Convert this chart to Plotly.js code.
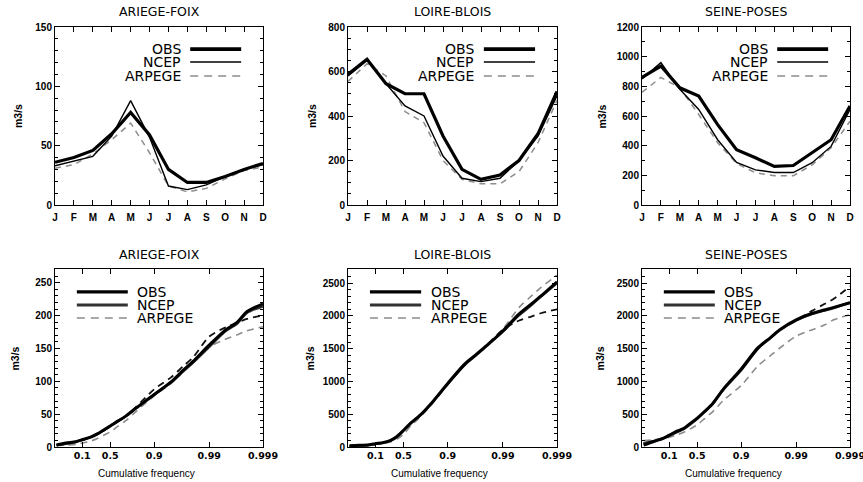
<!DOCTYPE html>
<html><head><meta charset="utf-8">
<script src="https://cdn.plot.ly/plotly-3.0.1.min.js"></script>
<style>html,body{margin:0;padding:0;background:#fff}#chart{width:863px;height:482px}</style>
</head><body><div id="chart"></div>
<script>
// ---------- data ----------
const monthLabels = ['J','F','M','A','M','J','J','A','S','O','N','D'];
const monthIndex = [1,2,3,4,5,6,7,8,9,10,11,12];

const ariegeObs    = [36,40,46,60,78,59,30,19,19,24,30,35];
const ariegeNcep   = [33,37,41,58,88,57,16,13,17,24,30,34];
const ariegeArpege = [31,34,43,55,69,44,16,11,14,22,29,32];

const loireObs    = [587,655,545,500,500,310,160,115,135,200,320,510];
const loireNcep   = [580,650,545,445,400,220,120,105,120,200,310,490];
const loireArpege = [555,635,580,420,370,200,115,95,95,150,280,470];

const seineObs    = [860,937,790,734,542,373,318,260,266,352,440,667];
const seineNcep   = [850,960,780,644,440,287,237,219,219,285,395,644];
const seineArpege = [760,860,790,610,420,280,217,197,197,271,386,565];

const freq = [0.001,0.01,0.05,0.1,0.2,0.3,0.4,0.5,0.6,0.7,0.8,0.9,0.95,0.97,0.98,0.99,0.995,0.997,0.998,0.999];
const freqTicks = [0.1,0.5,0.9,0.99,0.999];
const freqTickText = ['0.1','0.5','0.9','0.99','0.999'];

const ariegeQObs    = [3,6,8,11,15,20,26,32,39,47,60,80,99,117,130,155,178,190,206,218];
const ariegeQNcep   = [3,5,8,11,15,20,25,32,39,47,60,80,98,115,128,152,176,188,204,214];
const ariegeQArpege = [2,3,4,6,9,13,18,23,31,40,55,78,97,115,128,152,164,171,177,183];
const ariegeQOther  = [3,5,8,11,15,20,25,32,39,47,62,88,106,123,136,168,182,189,195,200];

const loireQObs    = [20,25,35,50,70,100,160,255,365,470,645,970,1265,1420,1545,1770,2030,2180,2300,2520];
const loireQNcep   = [15,20,30,45,65,95,155,250,360,470,640,960,1250,1410,1540,1760,2010,2160,2290,2500];
const loireQArpege = [10,15,25,40,55,75,120,195,320,440,620,950,1250,1420,1560,1800,2130,2300,2430,2620];
const loireQOther  = [15,20,30,45,65,95,155,250,360,470,640,960,1250,1410,1540,1790,1930,1990,2040,2100];

const seineQObs    = [30,80,130,180,245,290,365,440,540,665,890,1190,1515,1665,1790,1940,2040,2090,2130,2200];
const seineQNcep   = [60,90,130,170,230,280,350,430,530,660,880,1170,1500,1660,1780,1930,2030,2080,2120,2200];
const seineQArpege = [100,110,130,150,190,230,280,340,430,540,715,940,1240,1390,1510,1690,1790,1860,1940,2020];
const seineQOther  = [50,85,130,175,240,285,360,435,535,660,880,1180,1510,1660,1780,1930,2080,2180,2260,2450];

const titles = ['ARIEGE-FOIX','LOIRE-BLOIS','SEINE-POSES'];
const legendNames = ['OBS','NCEP','ARPEGE'];

// ---------- helpers ----------
function gumbel(p){ return -Math.log(-Math.log(p)); }
const gx = freq.map(gumbel);
const gTicks = freqTicks.map(gumbel);

const W = 863, H = 482;
const xDoms = [[55/W,263/W],[348/W,557/W],[642/W,850/W]];
const yTop = [1-205/H, 1-27/H];
const yBot = [1-447/H, 1-269/H];

const FONT = 'Liberation Sans, Arial, sans-serif';
const DFONT = 'DejaVu Sans, sans-serif';
const GRAY = '#8c8c8c';

const traces = [];
function addLine(ax, x, y, style, smooth){
  const t = Object.assign({type:'scatter', mode:'lines', x:x, y:y,
    xaxis: ax===1?'x':'x'+ax, yaxis: ax===1?'y':'y'+ax, showlegend:false, hoverinfo:'skip'}, JSON.parse(JSON.stringify(style)));
  if(smooth){ t.line.shape = 'spline'; t.line.smoothing = 0.8; }
  traces.push(t);
}
const sObs  = {line:{color:'#000', width:3.2}};
const sNcep = {line:{color:'#000', width:1.4}};
const sArp  = {line:{color:GRAY, width:1.5, dash:'6px,5px'}};
const sObsB  = {line:{color:'#000', width:3}};
const sNcepB = {line:{color:'#333', width:2.4}};
const sArpB  = {line:{color:GRAY, width:1.6, dash:'7px,5px'}};
const sOthB  = {line:{color:'#111', width:1.8, dash:'7px,5px'}};

const topSets = [[ariegeObs,ariegeNcep,ariegeArpege],[loireObs,loireNcep,loireArpege],[seineObs,seineNcep,seineArpege]];
topSets.forEach((s,i)=>{
  addLine(i+1, monthIndex, s[2], sArp, false);
  addLine(i+1, monthIndex, s[1], sNcep, false);
  addLine(i+1, monthIndex, s[0], sObs, false);
});
const botSets = [[ariegeQObs,ariegeQNcep,ariegeQArpege,ariegeQOther],[loireQObs,loireQNcep,loireQArpege,loireQOther],[seineQObs,seineQNcep,seineQArpege,seineQOther]];
botSets.forEach((s,i)=>{
  addLine(i+4, gx, s[2], sArpB, true);
  addLine(i+4, gx, s[3], sOthB, true);
  addLine(i+4, gx, s[1], sNcepB, true);
  addLine(i+4, gx, s[0], sObsB, true);
});

const layout = {
  width: W, height: H,
  margin:{l:0,r:0,t:0,b:0},
  paper_bgcolor:'#fff', plot_bgcolor:'#fff',
  font:{family:FONT, color:'#000', size:10},
  showlegend:false,
  shapes:[], annotations:[]
};

function axisBase(){
  return {showline:true, linecolor:'#000', linewidth:1, mirror:'allticks',
    ticks:'inside', ticklen:5, tickwidth:1, tickcolor:'#000',
    showgrid:false, zeroline:false, fixedrange:true, ticklabeloverflow:'allow',
    tickfont:{family:FONT, size:10, color:'#000', weight:'bold'}};
}
const topYR = [[0,150,50,10],[0,800,200,50],[0,1200,200,100]];
const botYR = [[0,271,50,10],[0,2715,500,100],[0,2715,500,100]];

for(let i=0;i<6;i++){
  const n = i+1;
  const xk = n===1?'xaxis':'xaxis'+n;
  const yk = n===1?'yaxis':'yaxis'+n;
  const xa = axisBase(), ya = axisBase();
  xa.domain = xDoms[i%3];
  xa.anchor = n===1?'y':'y'+n;
  ya.anchor = n===1?'x':'x'+n;
  if(i<3){
    ya.domain = yTop;
    xa.range = [1,12];
    xa.tickvals = monthIndex; xa.ticktext = monthLabels;
    xa.ticklabelstandoff = 3;
    const r = topYR[i];
    ya.range = [r[0],r[1]]; ya.dtick = r[2]; ya.tick0 = 0;
    ya.minor = {ticks:'inside', ticklen:3, dtick:r[3], tickcolor:'#000', showgrid:false};
  } else {
    ya.domain = yBot;
    xa.range = [-2, gumbel(0.999)];
    xa.tickvals = gTicks; xa.ticktext = freqTickText;
    xa.tickfont = {family:DFONT, size:9.5, color:'#000', weight:'bold'};
    const r = botYR[i-3];
    ya.range = [r[0],r[1]]; ya.dtick = r[2]; ya.tick0 = 0;
    ya.minor = {ticks:'inside', ticklen:3, dtick:r[3], tickcolor:'#000', showgrid:false};
  }
  layout[xk] = xa; layout[yk] = ya;

  const xr = n===1?'x domain':'x'+n+' domain';
  const yr = n===1?'y domain':'y'+n+' domain';
  // panel title
  layout.annotations.push({xref:xr, yref:yr, x:0.5, y:1, yshift: i<3?6:5, xanchor:'center', yanchor:'bottom',
    text:titles[i%3], showarrow:false, font:{family:DFONT, size:12.5, color:'#000'}});
  // y title
  layout.annotations.push({xref:xr, yref:yr, x:[-0.178,-0.172,-0.19,-0.19,-0.18,-0.2][i], y:0.5, xanchor:'center', yanchor:'middle',
    text:'m3/s', textangle:-90, showarrow:false, font:{family:FONT, size:10.5, color:'#000', weight:'bold'}});
  if(i>=3){
    layout.annotations.push({xref:xr, yref:yr, x:0.44, y:0, yshift:-19, xanchor:'center', yanchor:'top',
      text:'Cumulative frequency', showarrow:false, font:{family:FONT, size:10, color:'#000'}});
  }
  // legend
  const ys = i<3 ? [0.876,0.803,0.725] : [0.871,0.798,0.725];
  const lineStyles = i<3
    ? [{color:'#000',width:3.8},{color:'#000',width:1.6},{color:GRAY,width:1.6,dash:'8px,6px'}]
    : [{color:'#000',width:3.2},{color:'#333',width:3},{color:GRAY,width:1.6,dash:'8px,6px'}];
  for(let k=0;k<3;k++){
    const lx0 = i<3?0.65:0.105, lx1 = i<3?0.895:0.35;
    layout.shapes.push({type:'line', xref:xr, yref:yr, x0:lx0, x1:lx1, y0:ys[k], y1:ys[k], line:lineStyles[k]});
    layout.annotations.push({xref:xr, yref:yr, x: i<3?0.61:0.39, y:ys[k], xanchor: i<3?'right':'left', yanchor:'middle',
      text:legendNames[k], showarrow:false, borderpad:0, font:{family:DFONT, size:14, color:'#000'}});
  }
}

Plotly.newPlot('chart', traces, layout, {staticPlot:true, displayModeBar:false});
</script></body></html>
